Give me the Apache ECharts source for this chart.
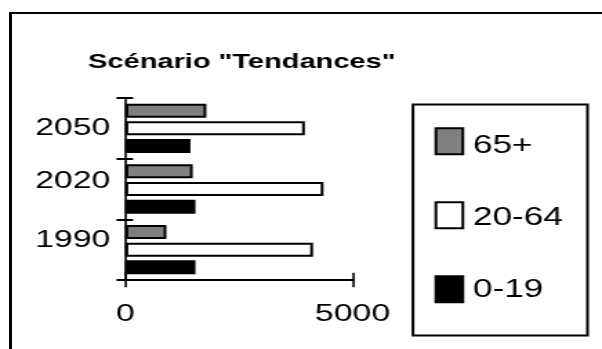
<!DOCTYPE html>
<html><head><meta charset="utf-8">
<script src="https://cdn.jsdelivr.net/npm/echarts@6/dist/echarts.min.js"></script>
<style>
html,body{margin:0;padding:0;background:#fff;overflow:hidden;width:602px;height:349px}
#wrap{width:602px;height:349px;overflow:hidden;position:relative;background:#fff}
#c{width:440px;height:349px;transform:scaleX(1.38073);transform-origin:0 0;position:absolute;left:0;top:0}
#frame{position:absolute;left:9.3px;top:11.7px;width:700px;height:400px;border-left:3px solid #000;border-top:2.4px solid #000;pointer-events:none}
</style></head><body><div id="wrap"><div id="c"></div><div id="frame"></div></div>
<script>
// ---- data ----
const chartTitle = 'Scénario "Tendances"';
const categories = ['1990', '2020', '2050'];
const seriesNames = ['65+', '20-64', '0-19'];
const values65plus = [900, 1480, 1780];
const values20to64 = [4130, 4360, 3950];
const values0to19 = [1540, 1540, 1430];
const xMin = 0;
const xMax = 5000;

// ---- styles ----
const FONT = 'Liberation Sans, Arial, Helvetica, sans-serif';
const colors = ['#808080', '#ffffff', '#000000'];
const labelShift = { '1990': 'd', '2020': 'c', '2050': 'a' };

const chart = echarts.init(document.getElementById('c'), null, { renderer: 'canvas' });
const seriesData = [values65plus, values20to64, values0to19];

const option = {
  animation: false,
  backgroundColor: '#fff',
  title: {
    text: chartTitle,
    left: 63.8,
    top: 52,
    padding: 0,
    textStyle: { fontFamily: FONT, fontSize: 21, fontWeight: 'bold', color: '#000' }
  },
  graphic: [{
    type: 'rect',
    shape: { x: 299.1, y: 104.5, width: 126.4, height: 231 },
    style: { fill: 'none', stroke: '#000', lineWidth: 2 },
    silent: true
  }],
  legend: [{
    // legend swatches
    orient: 'vertical',
    left: 314.7,
    top: 127.3,
    height: 240,
    padding: 0,
    itemGap: 46,
    itemWidth: 19.5,
    itemHeight: 26,
    icon: 'rect',
    itemStyle: { borderColor: '#000', borderWidth: 2 },
    formatter: function () { return ''; },
    textStyle: { fontSize: 8, lineHeight: 8 },
    data: seriesNames
  }, {
    // legend labels
    orient: 'vertical',
    left: 336.5,
    top: 131.3,
    height: 240,
    padding: 0,
    itemGap: 42,
    itemWidth: 1,
    itemHeight: 30,
    icon: 'rect',
    itemStyle: { color: 'rgba(0,0,0,0)', borderWidth: 0 },
    textStyle: { fontFamily: FONT, fontSize: 25.5, lineHeight: 30, color: '#000' },
    data: seriesNames
  }],
  grid: { left: 90.9, top: 98, width: 164.4, height: 182, containLabel: false },
  xAxis: [{
    type: 'value',
    min: xMin, max: xMax, interval: 5000,
    axisLine: { show: true, lineStyle: { color: '#000', width: 2 } },
    axisTick: { show: true, inside: false, length: 7.3, lineStyle: { color: '#000', width: 1.6 } },
    axisLabel: { show: true, margin: 22, fontFamily: FONT, fontSize: 24.5, color: '#000',
      formatter: function (v) { return String(v); } },
    splitLine: { show: false }
  }, {
    type: 'value', position: 'bottom',
    min: xMin, max: xMax, interval: 5000,
    axisLine: { show: false },
    axisTick: { show: true, inside: true, length: 7.3, lineStyle: { color: '#000', width: 1.6 } },
    axisLabel: { show: false },
    splitLine: { show: false }
  }],
  yAxis: [{
    type: 'category',
    data: categories,
    axisLine: { show: true, lineStyle: { color: '#000', width: 1.6 } },
    axisTick: { show: true, inside: false, length: 6.5, lineStyle: { color: '#000', width: 2 } },
    axisLabel: {
      margin: 11, fontFamily: FONT, fontSize: 24.5, color: '#000',
      formatter: function (v) { return '{' + labelShift[v] + '|' + v + '}'; },
      rich: {
        a: { fontFamily: FONT, fontSize: 24.5, color: '#000', padding: [0, 0, 0, 0] },
        c: { fontFamily: FONT, fontSize: 24.5, color: '#000', padding: [0, 0, 15, 0] },
        d: { fontFamily: FONT, fontSize: 24.5, color: '#000', padding: [0, 0, 18, 0] }
      }
    },
    splitLine: { show: false }
  }, {
    type: 'category',
    position: 'left',
    offset: 0,
    data: categories,
    axisLine: { show: false },
    axisTick: { show: true, inside: true, length: 5.5, lineStyle: { color: '#000', width: 2 } },
    axisLabel: { show: false },
    splitLine: { show: false }
  }],
  series: seriesNames.map(function (name, i) {
    return {
      name: name,
      type: 'bar',
      xAxisIndex: 0,
      yAxisIndex: 0,
      barWidth: 14,
      barGap: '26%',
      data: seriesData[i],
      itemStyle: { color: colors[i], borderColor: '#000', borderWidth: 2 }
    };
  })
};
chart.setOption(option);
</script>
</body></html>
